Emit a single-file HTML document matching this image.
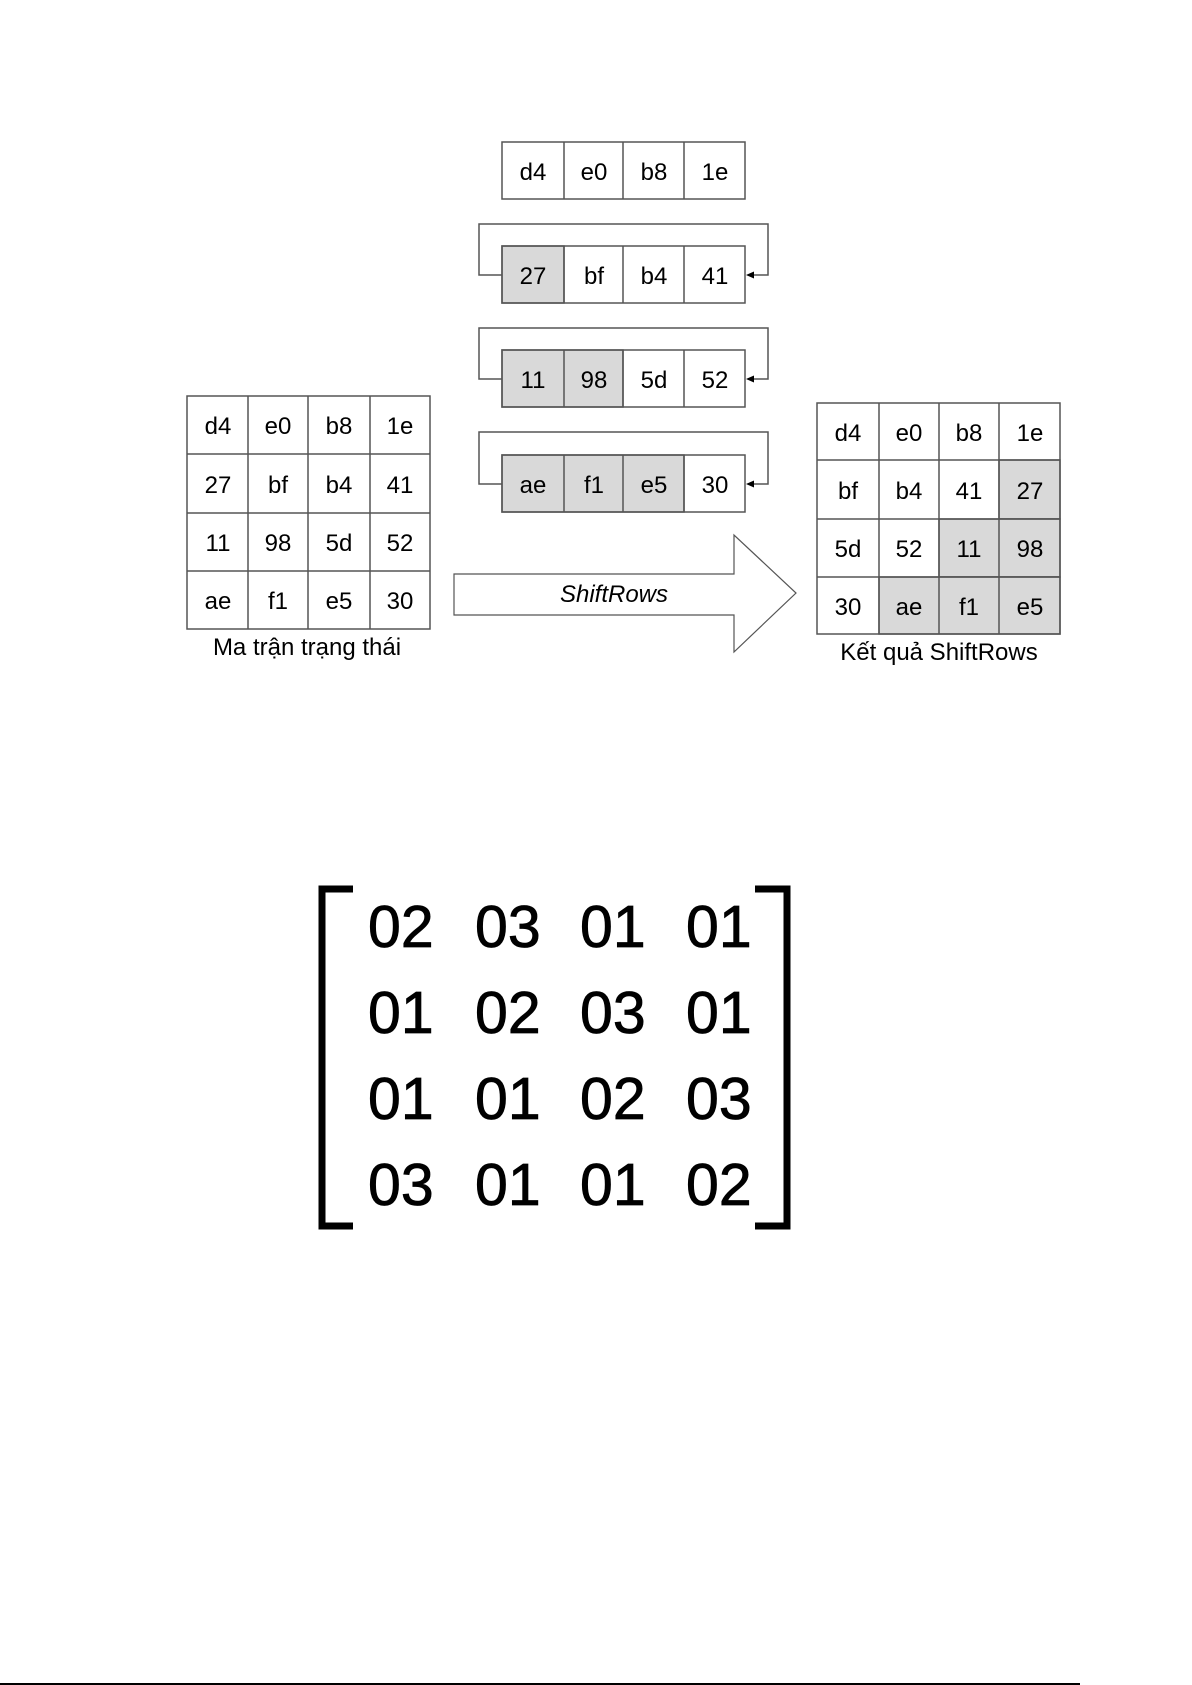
<!DOCTYPE html>
<html><head><meta charset="utf-8"><style>
html,body{margin:0;padding:0;background:#fff;}
svg{display:block;}
text{font-family:"Liberation Sans",Arial,sans-serif;}
</style></head><body>
<svg width="1192" height="1685" viewBox="0 0 1192 1685" xmlns="http://www.w3.org/2000/svg">
<rect width="1192" height="1685" fill="#fff"/>
<g stroke="#555" stroke-width="1.5" fill="none">
<rect x="502" y="142" width="243" height="57" fill="#fff"/>
<rect x="502" y="246" width="62" height="57" fill="#d9d9d9"/>
<rect x="502" y="246" width="243" height="57"/>
<rect x="502" y="350" width="121" height="57" fill="#d9d9d9"/>
<rect x="502" y="350" width="243" height="57"/>
<rect x="502" y="455" width="182" height="57" fill="#d9d9d9"/>
<rect x="502" y="455" width="243" height="57"/>
<path d="M564 142V199M623 142V199M684 142V199M564 246V303M623 246V303M684 246V303M564 350V407M623 350V407M684 350V407M564 455V512M623 455V512M684 455V512"/>
<path d="M502 275H479V224H768V275H752M502 379H479V328H768V379H752M502 484H479V432H768V484H752"/>
</g>
<g fill="#000">
<path d="M746 275l8-3.5v7z M746 379l8-3.5v7z M746 484l8-3.5v7z"/>
</g>
<g stroke="#555" stroke-width="1.5" fill="none">
<rect x="187" y="396" width="243" height="233"/>
<path d="M248 396V629M308 396V629M370 396V629M187 454H430M187 513H430M187 571H430"/>
</g>
<g stroke="#555" stroke-width="1.5">
<rect x="999" y="460" width="61" height="59" fill="#d9d9d9"/>
<rect x="939" y="519" width="121" height="58" fill="#d9d9d9"/>
<rect x="879" y="577" width="181" height="57" fill="#d9d9d9"/>
<rect x="817" y="403" width="243" height="231" fill="none"/>
<path fill="none" d="M879 403V634M939 403V634M999 403V634M817 460H1060M817 519H1060M817 577H1060"/>
</g>
<path d="M454 574H734V535L796 593L734 652V615H454Z" fill="#fff" stroke="#555" stroke-width="1.2"/>
<text x="614" y="602" font-size="24" font-style="italic" text-anchor="middle">ShiftRows</text>
<g font-size="24" text-anchor="middle">
<text x="533" y="180">d4</text><text x="594" y="180">e0</text><text x="654" y="180">b8</text><text x="715" y="180">1e</text>
<text x="533" y="284">27</text><text x="594" y="284">bf</text><text x="654" y="284">b4</text><text x="715" y="284">41</text>
<text x="533" y="388">11</text><text x="594" y="388">98</text><text x="654" y="388">5d</text><text x="715" y="388">52</text>
<text x="533" y="493">ae</text><text x="594" y="493">f1</text><text x="654" y="493">e5</text><text x="715" y="493">30</text>
<text x="218" y="434">d4</text><text x="278" y="434">e0</text><text x="339" y="434">b8</text><text x="400" y="434">1e</text>
<text x="218" y="493">27</text><text x="278" y="493">bf</text><text x="339" y="493">b4</text><text x="400" y="493">41</text>
<text x="218" y="551">11</text><text x="278" y="551">98</text><text x="339" y="551">5d</text><text x="400" y="551">52</text>
<text x="218" y="609">ae</text><text x="278" y="609">f1</text><text x="339" y="609">e5</text><text x="400" y="609">30</text>
<text x="848" y="441">d4</text><text x="909" y="441">e0</text><text x="969" y="441">b8</text><text x="1030" y="441">1e</text>
<text x="848" y="499">bf</text><text x="909" y="499">b4</text><text x="969" y="499">41</text><text x="1030" y="499">27</text>
<text x="848" y="557">5d</text><text x="909" y="557">52</text><text x="969" y="557">11</text><text x="1030" y="557">98</text>
<text x="848" y="615">30</text><text x="909" y="615">ae</text><text x="969" y="615">f1</text><text x="1030" y="615">e5</text>
</g>
<text x="307" y="655" font-size="24" text-anchor="middle">Ma trận trạng thái</text>
<text x="939" y="660" font-size="24" text-anchor="middle">Kết quả ShiftRows</text>
<path d="M353 889H322V1226H353" fill="none" stroke="#000" stroke-width="7"/>
<path d="M755 889H787V1226H755" fill="none" stroke="#000" stroke-width="7"/>
<g font-size="59" stroke="#000" stroke-width="0.8">
<text x="368" y="947">02</text><text x="475" y="947">03</text><text x="580" y="947">01</text><text x="686" y="947">01</text>
<text x="368" y="1033">01</text><text x="475" y="1033">02</text><text x="580" y="1033">03</text><text x="686" y="1033">01</text>
<text x="368" y="1119">01</text><text x="475" y="1119">01</text><text x="580" y="1119">02</text><text x="686" y="1119">03</text>
<text x="368" y="1205">03</text><text x="475" y="1205">01</text><text x="580" y="1205">01</text><text x="686" y="1205">02</text>
</g>
<rect x="0" y="1683" width="1080" height="2" fill="#000"/>
</svg>
</body></html>
